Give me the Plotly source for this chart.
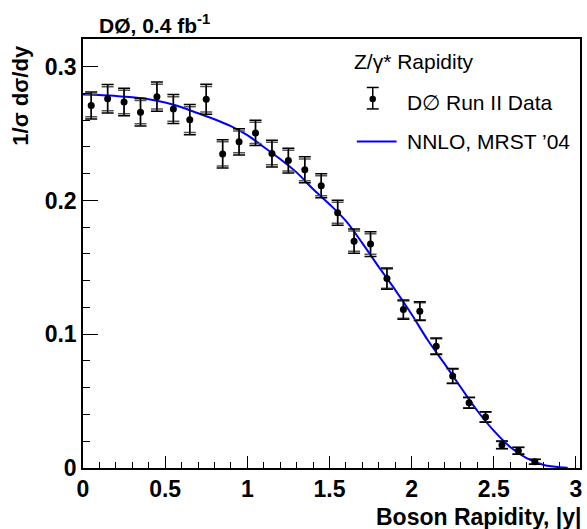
import plotly.graph_objects as go

# D0 Z/gamma* rapidity, normalised to the cross section
y_centres = [0.05, 0.15, 0.25, 0.35, 0.45, 0.55, 0.65, 0.75, 0.85, 0.95,
             1.05, 1.15, 1.25, 1.35, 1.45, 1.55, 1.65, 1.75, 1.85, 1.95,
             2.05, 2.15, 2.25, 2.35, 2.45, 2.55, 2.65, 2.75]
dsigma = [0.271, 0.276, 0.2736, 0.266, 0.2776, 0.2684, 0.2604, 0.2756, 0.2348, 0.2438,
          0.2505, 0.2351, 0.2298, 0.2229, 0.211, 0.1908, 0.1696, 0.1674, 0.1416, 0.1184,
          0.1172, 0.091, 0.0687, 0.0488, 0.0381, 0.0172, 0.0129, 0.0047]
err_total = [0.0101, 0.0107, 0.0103, 0.0103, 0.011, 0.0108, 0.0113, 0.0112, 0.0106, 0.0098,
             0.0095, 0.010, 0.0093, 0.0097, 0.0089, 0.0093, 0.009, 0.0092, 0.008, 0.0072,
             0.007, 0.0062, 0.0056, 0.0041, 0.0039, 0.0029, 0.0027, 0.0019]
err_stat = [0.0085, 0.009, 0.0087, 0.0087, 0.0093, 0.0091, 0.0096, 0.0095, 0.009, 0.0082,
            0.0079, 0.0084, 0.0077, 0.0081, 0.0074, 0.0078, 0.0075, 0.0077, 0.0072, 0.0065,
            0.0063, 0.0056, 0.0051, 0.0037, 0.0035, 0.0026, 0.0024, 0.0017]

# NNLO, MRST '04 prediction
theory_y = [0.0, 0.1, 0.2, 0.3, 0.4, 0.5, 0.6, 0.7, 0.8, 0.9, 1.0,
            1.1, 1.2, 1.3, 1.4, 1.5, 1.6, 1.7, 1.8, 1.9, 2.0,
            2.1, 2.2, 2.3, 2.4, 2.5, 2.6, 2.7, 2.8, 2.9, 2.95]
theory_val = [0.2792, 0.2789, 0.2781, 0.2771, 0.2757, 0.2732, 0.2697, 0.2652, 0.2607, 0.2555, 0.2488,
              0.2400, 0.2310, 0.2210, 0.2085, 0.1972, 0.1847, 0.1681, 0.1503, 0.1332, 0.1149,
              0.0953, 0.0780, 0.0602, 0.0428, 0.0279, 0.0157, 0.0073, 0.0025, 0.0006, 0.0002]

FONT = "Liberation Sans, Arial, sans-serif"

fig = go.Figure()

fig.add_trace(go.Scatter(
    x=theory_y, y=theory_val, mode='lines', line_shape='spline',
    line=dict(color='#0000ff', width=2), hoverinfo='skip'
))

# inner (stat) error caps
fig.add_trace(go.Scatter(
    x=y_centres, y=dsigma, mode='markers',
    marker=dict(size=1, color='rgba(0,0,0,0)'),
    error_y=dict(type='data', array=err_stat, color='#555555', thickness=1.5, width=6)
))
# total errors + points
fig.add_trace(go.Scatter(
    x=y_centres, y=dsigma, mode='markers',
    marker=dict(size=7, color='black'),
    error_y=dict(type='data', array=err_total, color='black', thickness=1.5, width=6)
))

# hand-made legend (ROOT style)
ann = [
    dict(text="Z/γ* Rapidity", x=0.541, y=0.947, xanchor='left', yanchor='middle',
         font=dict(size=21)),
    dict(text="D∅ Run II Data", x=0.647, y=0.852, xanchor='left', yanchor='middle',
         font=dict(size=21)),
    dict(text="NNLO, MRST ’04", x=0.647, y=0.761, xanchor='left', yanchor='middle',
         font=dict(size=21)),
    dict(text="<b>DØ, 0.4 fb<sup>-1</sup></b>", x=0.028, y=1.036, xanchor='left',
         yanchor='middle', font=dict(size=21)),
    dict(text="<b>1/σ dσ/dy</b>", x=-0.125, y=0.87, xanchor='center', yanchor='middle',
         textangle=-90, font=dict(size=22)),
    dict(text="<b>Boson Rapidity, |y|</b>", x=1.006, y=-0.114, xanchor='right',
         yanchor='middle', font=dict(size=23)),
]
for a in ann:
    a.update(xref='paper', yref='paper', showarrow=False)
    a['font'].update(family=FONT, color='black')

sx, sy = 0.583, 0.86
shapes = [
    dict(type='line', x0=sx, x1=sx, y0=0.837, y1=0.887, line=dict(color='black', width=1.5)),
    dict(type='line', x0=sx - 0.012, x1=sx + 0.012, y0=0.837, y1=0.837, line=dict(color='black', width=1.5)),
    dict(type='line', x0=sx - 0.012, x1=sx + 0.012, y0=0.887, y1=0.887, line=dict(color='black', width=1.5)),
    dict(type='circle', x0=sx - 0.0065, x1=sx + 0.0065, y0=sy - 0.0075, y1=sy + 0.0075,
         fillcolor='black', line=dict(color='black', width=0)),
    dict(type='line', x0=0.551, x1=0.631, y0=0.761, y1=0.761, line=dict(color='#0000ff', width=2)),
]
for s in shapes:
    s.update(xref='paper', yref='paper')

fig.update_layout(
    width=587, height=529,
    margin=dict(l=83, r=5, t=39, b=61),
    paper_bgcolor='white', plot_bgcolor='white',
    showlegend=False,
    font=dict(family=FONT, color='black'),
    annotations=ann, shapes=shapes,
)

fig.update_xaxes(
    range=[0, 3.025], dtick=0.5, tick0=0,
    ticks='inside', ticklen=12, tickwidth=1, tickcolor='black',
    minor=dict(dtick=0.1, ticks='inside', ticklen=6, tickcolor='black'),
    showline=True, linecolor='black', linewidth=1.5, mirror=True,
    showgrid=False, zeroline=False,
    tickfont=dict(family=FONT, size=23, color='black'),
    tickprefix='<b>', ticksuffix='</b>',
)
fig.update_yaxes(
    range=[0, 0.3207], dtick=0.1, tick0=0,
    ticks='inside', ticklen=15, tickwidth=1, tickcolor='black',
    minor=dict(dtick=0.02, ticks='inside', ticklen=7, tickcolor='black'),
    showline=True, linecolor='black', linewidth=1.5, mirror=True,
    showgrid=False, zeroline=False,
    tickfont=dict(family=FONT, size=23, color='black'),
    tickprefix='<b>', ticksuffix='</b>',
)

# drop the default 8px body margin so the figure fills the window exactly
fig.write_html("out.html", config={'displayModeBar': False},
               post_script="document.body.style.margin='0';document.body.style.overflow='hidden';")
